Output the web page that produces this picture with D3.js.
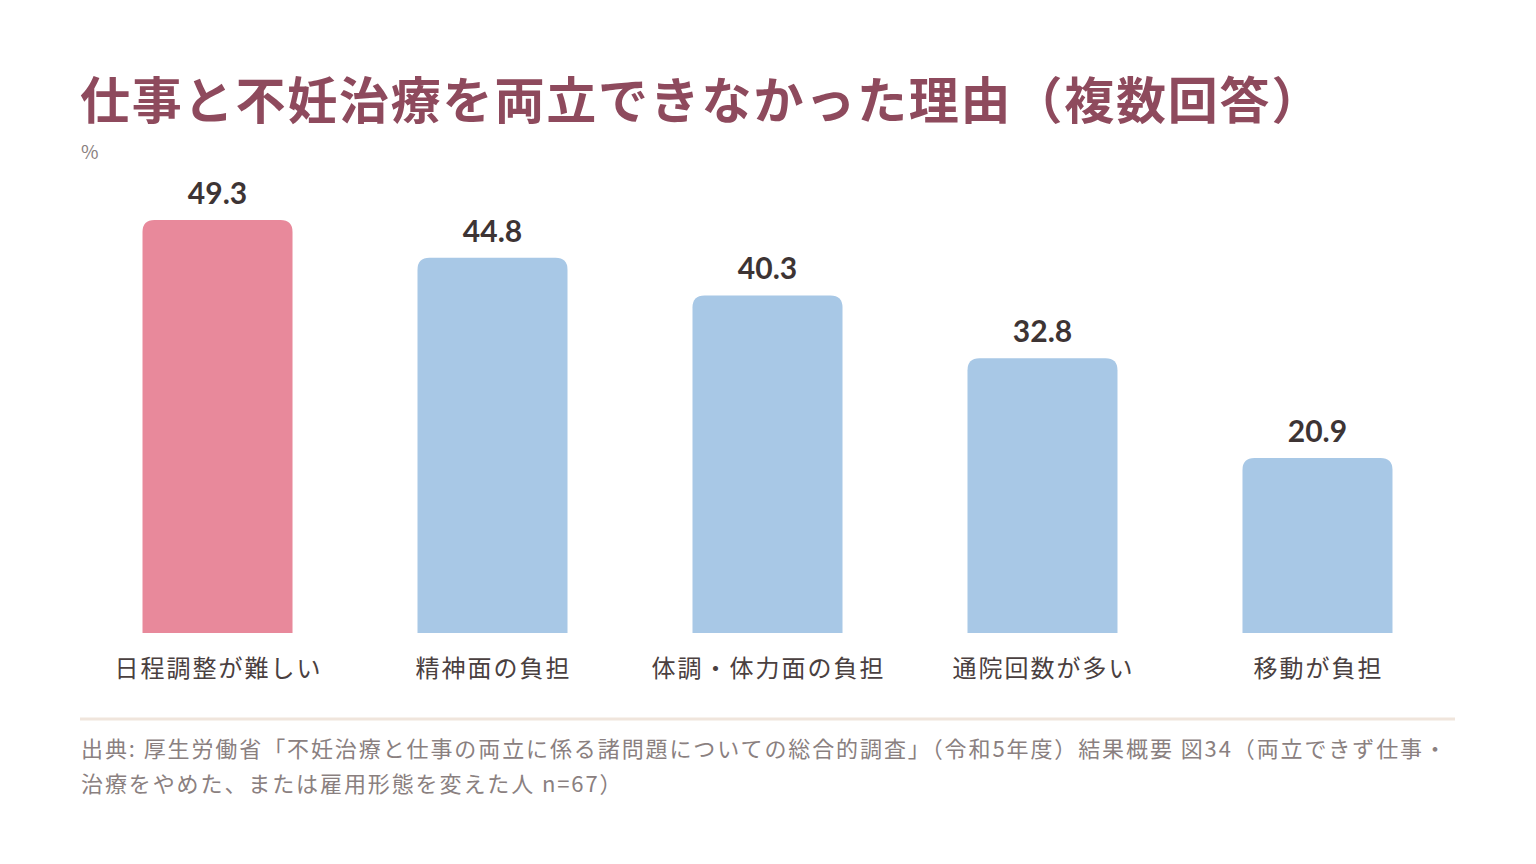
<!DOCTYPE html>
<html lang="ja">
<head>
<meta charset="utf-8">
<script src="https://cdn.jsdelivr.net/npm/d3@7"></script>
<style>
  html, body { margin: 0; padding: 0; background: #fff; }
  svg { display: block; }
</style>
</head>
<body>
<script>
// data
const categories = ["日程調整が難しい", "精神面の負担", "体調・体力面の負担", "通院回数が多い", "移動が負担"];
const values = [49.3, 44.8, 40.3, 32.8, 20.9];
const highlight = [true, false, false, false, false];

const titleText = "仕事と不妊治療を両立できなかった理由（複数回答）";
const unitText = "%";
const sourceLines = [
  "出典: 厚生労働省「不妊治療と仕事の両立に係る諸問題についての総合的調査」（令和5年度）結果概要 図34（両立できず仕事・",
  "治療をやめた、または雇用形態を変えた人 n=67）"
];

const W = 1536, H = 864;
const left = 80, right = 1455;
const baseY = 633;

const jp = "'Noto Sans CJK JP', 'Noto Sans', sans-serif";

const svg = d3.select("body").append("svg")
  .attr("width", W)
  .attr("height", H);

// title
svg.append("text")
  .attr("x", 80)
  .attr("y", 119)
  .attr("font-family", jp)
  .attr("font-weight", 700)
  .attr("font-size", 50)
  .attr("letter-spacing", 1.8)
  .attr("fill", "#8e4a5d")
  .text(titleText);

svg.append("text")
  .attr("x", 81)
  .attr("y", 159)
  .attr("font-family", jp)
  .attr("font-size", 19)
  .attr("fill", "#8a8080")
  .text(unitText);

// scales
const x = d3.scaleBand()
  .domain(categories)
  .range([left, right])
  .paddingInner(0.4545)
  .paddingOuter(0.2273);

const y = d3.scaleLinear()
  .domain([0, 50])
  .range([baseY, baseY - 50 * 413 / 49.3]);

const r = 12;
function barPath(d, i) {
  const x0 = x(categories[i]), w = x.bandwidth();
  const y0 = y(d);
  return "M" + x0 + "," + baseY +
    "V" + (y0 + r) +
    "Q" + x0 + "," + y0 + " " + (x0 + r) + "," + y0 +
    "H" + (x0 + w - r) +
    "Q" + (x0 + w) + "," + y0 + " " + (x0 + w) + "," + (y0 + r) +
    "V" + baseY + "Z";
}

svg.selectAll(".bar")
  .data(values)
  .enter()
  .append("path")
  .attr("class", "bar")
  .attr("d", barPath)
  .attr("fill", (d, i) => highlight[i] ? "#e8899b" : "#a8c8e6");

// value labels
svg.selectAll(".val")
  .data(values)
  .enter()
  .append("text")
  .attr("class", "val")
  .attr("x", (d, i) => x(categories[i]) + x.bandwidth() / 2)
  .attr("y", d => y(d) - 16)
  .attr("text-anchor", "middle")
  .attr("font-family", "Lato, 'Noto Sans', sans-serif")
  .attr("font-weight", 700)
  .attr("font-size", 30)
  .attr("fill", "#3d3434")
  .text(d => d.toFixed(1));

// category axis (labels only)
const xAxis = d3.axisBottom(x).tickSize(0).tickPadding(0);
const gx = svg.append("g")
  .attr("transform", "translate(0," + baseY + ")")
  .call(xAxis);
gx.select(".domain").remove();
gx.selectAll("text")
  .attr("dy", 0)
  .attr("y", 44)
  .attr("x", 1)
  .attr("font-family", jp)
  .attr("font-size", 24)
  .attr("letter-spacing", 2)
  .attr("fill", "#4a4040");

// footer rule
svg.append("line")
  .attr("x1", left).attr("x2", right)
  .attr("y1", 719).attr("y2", 719)
  .attr("stroke", "#f0e5dc")
  .attr("stroke-width", 3);

svg.selectAll(".src")
  .data(sourceLines)
  .enter()
  .append("text")
  .attr("class", "src")
  .attr("x", 81)
  .attr("y", (d, i) => 757 + i * 35)
  .attr("font-family", jp)
  .attr("font-size", 22)
  .attr("letter-spacing", 1.9)
  .attr("fill", "#8a8080")
  .text(d => d);
</script>
</body>
</html>
